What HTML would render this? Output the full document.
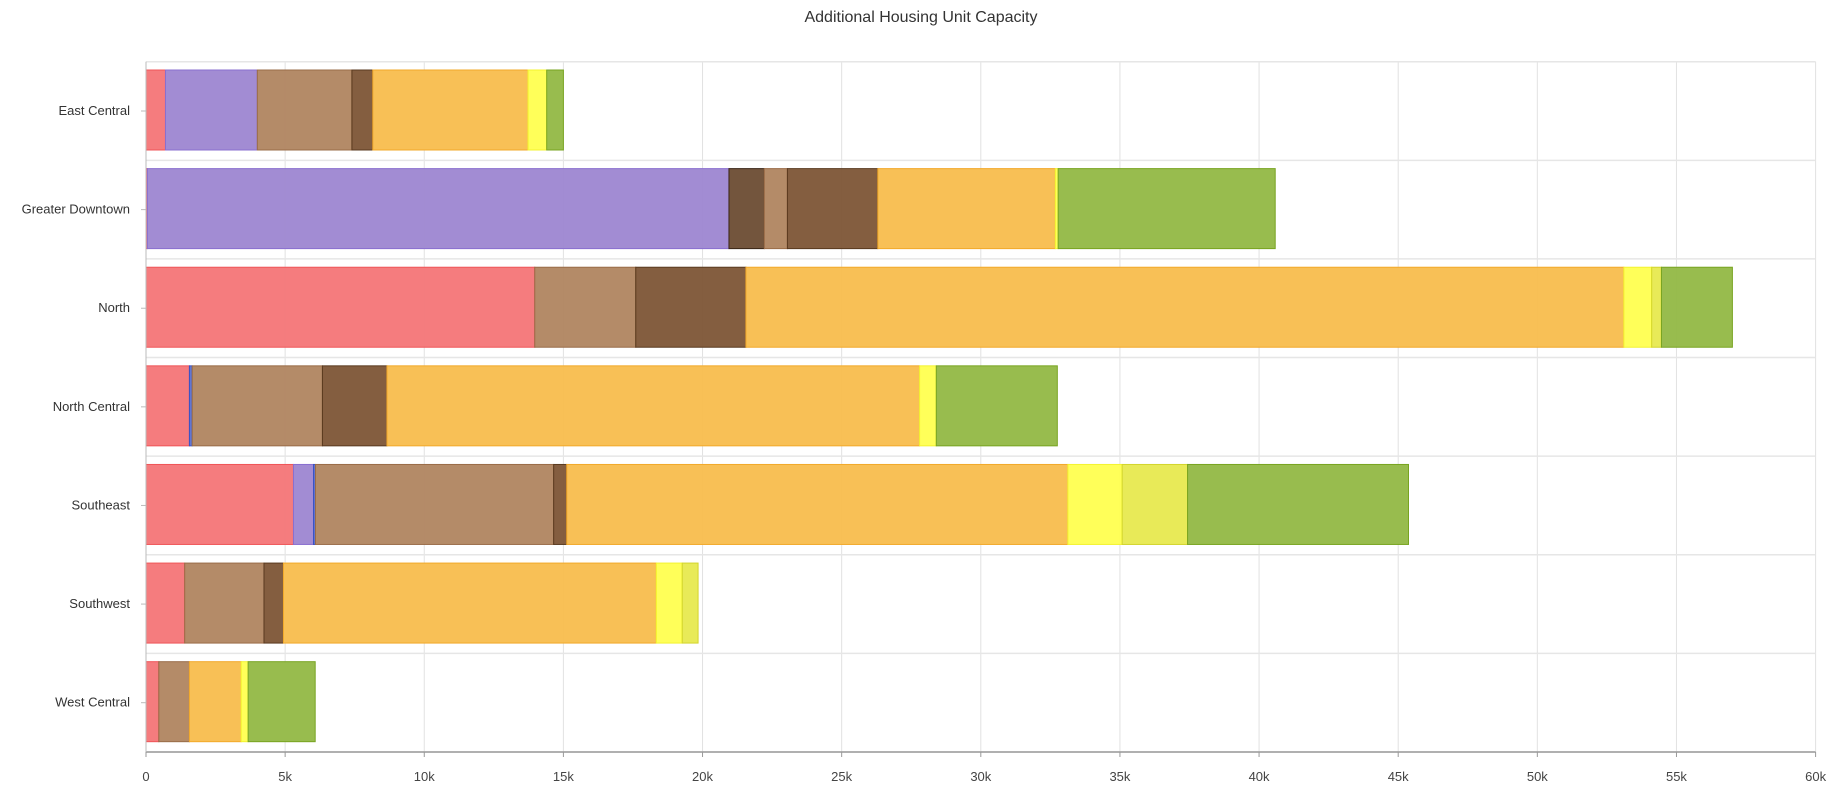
<!DOCTYPE html>
<html><head><meta charset="utf-8">
<style>
html,body{margin:0;padding:0;background:#fff;}
svg{display:block;font-family:"Liberation Sans",sans-serif;}
</style></head>
<body>
<svg id="chart" width="1844" height="797" viewBox="0 0 1844 797">
<text x="921" y="22" text-anchor="middle" font-size="16" fill="#333">Additional Housing Unit Capacity</text>
<g id="grid"></g><g id="bars"></g><g id="axes"></g>
</svg>
<script>
const categories = ["East Central","Greater Downtown","North","North Central","Southeast","Southwest","West Central"];
const seriesNames = ["s-red","s-purple","s-blue","s-deepbrown","s-tan","s-brown","s-orange","s-yellow","s-yellowgreen","s-green"];
const sRed =        [700, 50, 13970, 1560, 5300, 1390, 460];
const sPurple =     [3300, 20900, 0, 0, 720, 0, 0];
const sBlue =       [0, 0, 0, 100, 70, 0, 0];
const sDeepBrown =  [0, 1270, 0, 0, 0, 0, 0];
const sTan =        [3400, 830, 3630, 4680, 8560, 2850, 1100];
const sBrown =      [750, 3250, 3960, 2320, 470, 700, 0];
const sOrange =     [5580, 6380, 31550, 19140, 18010, 13400, 1860];
const sYellow =     [670, 100, 1000, 600, 1950, 930, 250];
const sYellowGreen =[0, 0, 350, 0, 2350, 570, 0];
const sGreen =      [600, 7800, 2550, 4350, 7940, 0, 2410];
const xTicks = [0,5000,10000,15000,20000,25000,30000,35000,40000,45000,50000,55000,60000];
const xTickLabels = ["0","5k","10k","15k","20k","25k","30k","35k","40k","45k","50k","55k","60k"];

const series = [sRed,sPurple,sBlue,sDeepBrown,sTan,sBrown,sOrange,sYellow,sYellowGreen,sGreen];
const fills = ["#f47577","#9d86d1","#5a6fd0","#6b4c33","#b08560","#7d5536","#f8bd4d","#ffff50","#e7e94f","#92b844"];
const strokes = ["#ef5558","#8a6fcf","#3b52c4","#3a2616","#9a6c48","#5a3a1f","#f2a92a","#f3f330","#d3d52c","#78a420"];
const L=146, R=1815.6, T=61.7, B=752, xMax=60000;
const x = v => L + v/xMax*(R-L);
const band = (B-T)/categories.length;
const y = i => T + i*band;
const NS="http://www.w3.org/2000/svg";
function mk(tag, attrs, parent){const e=document.createElementNS(NS,tag);for(const k in attrs)e.setAttribute(k,attrs[k]);parent.appendChild(e);return e;}
const grid=document.getElementById('grid'), bars=document.getElementById('bars'), axes=document.getElementById('axes');
xTicks.forEach((t,i)=>{
  const g=mk('line',{x1:x(t),x2:x(t),y1:T,y2:B,stroke:'#e2e2e2','stroke-width':1},grid);
  
  
  const tk=mk('line',{x1:x(t),x2:x(t),y1:B,y2:B+5,stroke:'#999'},axes);
  
  
  const tx=mk('text',{x:x(t),y:B+29,'text-anchor':'middle','font-size':13,fill:'#444'},axes);
  tx.textContent=xTickLabels[i];
  
  
});
for(let i=0;i<=categories.length;i++){
  const h=mk('line',{x1:L,x2:R,y1:y(i),y2:y(i),stroke:'#e6e6e6','stroke-width':1.5},grid);
  
  
}
categories.forEach((c,i)=>{
  const cy=y(i)+band/2;
  const lbl=mk('text',{x:L-16,y:cy+4,'text-anchor':'end','font-size':13,fill:'#333'},axes);
  lbl.textContent=c;
  
  
  const tk=mk('line',{x1:L-5,x2:L,y1:cy,y2:cy,stroke:'#bbb'},axes);
  
  
  let acc=0;
  series.forEach((s,k)=>{
    const v=s[i]; if(!v) return;
    const r=mk('rect',{x:x(acc),y:y(i)+8.3,width:x(acc+v)-x(acc),height:80,fill:fills[k],stroke:strokes[k],'stroke-width':1,'fill-opacity':0.95},bars);
    
    
    acc+=v;
  });
});
const ax=mk('line',{x1:L,x2:R,y1:B,y2:B,stroke:'#999','stroke-width':1.5},axes);


const ay=mk('line',{x1:L,x2:L,y1:T,y2:B,stroke:'#bbb','stroke-width':1},axes);


</script>
</body></html>
